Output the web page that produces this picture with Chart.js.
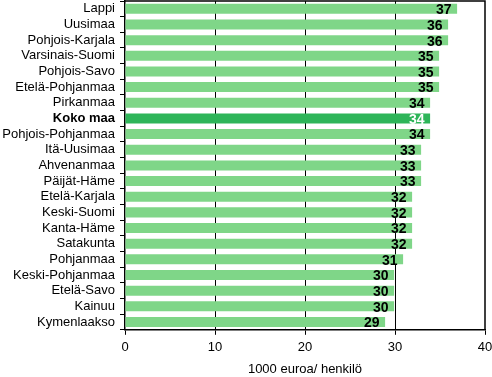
<!DOCTYPE html>
<html>
<head>
<meta charset="utf-8">
<script src="https://cdn.jsdelivr.net/npm/chart.js@4.4.1/dist/chart.umd.min.js"></script>
<style>
html,body{margin:0;padding:0;background:#fff;}
#wrap{width:492px;height:377px;position:relative;}
</style>
</head>
<body>
<div id="wrap"><canvas id="c" width="492" height="377"></canvas></div>
<script>
const categories = ["Lappi","Uusimaa","Pohjois-Karjala","Varsinais-Suomi","Pohjois-Savo","Etelä-Pohjanmaa","Pirkanmaa","Koko maa","Pohjois-Pohjanmaa","Itä-Uusimaa","Ahvenanmaa","Päijät-Häme","Etelä-Karjala","Keski-Suomi","Kanta-Häme","Satakunta","Pohjanmaa","Keski-Pohjanmaa","Etelä-Savo","Kainuu","Kymenlaakso"];
const values = [36.9,35.9,35.9,34.9,34.9,34.9,33.9,33.9,33.9,32.9,32.9,32.9,31.9,31.9,31.9,31.9,30.9,29.9,29.9,29.9,28.9];
const valueLabels = ["37","36","36","35","35","35","34","34","34","33","33","33","32","32","32","32","31","30","30","30","29"];
const xTicks = [0,10,20,30,40];
const highlight = "Koko maa";
const axisTitle = "1000 euroa/ henkilö";

const LIGHT = "#7fd688", DARK = "#2eb559";
const FONT = "'Liberation Sans', Arial, sans-serif";
const NARROW = "'Liberation Sans Narrow', 'Arial Narrow', 'Liberation Sans', sans-serif";

const labelPlugin = {
  id: 'valLabels',
  afterDatasetsDraw(chart) {
    const ctx = chart.ctx;
    const meta = chart.getDatasetMeta(0);
    ctx.save();
    ctx.font = "bold 14px " + NARROW;
    ctx.textAlign = "right";
    ctx.textBaseline = "middle";
    meta.data.forEach((bar, i) => {
      ctx.fillStyle = categories[i] === highlight ? "#ffffff" : "#000000";
      ctx.fillText(valueLabels[i], bar.x - 5.5, bar.y + 1.5);
    });
    ctx.restore();
  }
};
const framePlugin = {
  id: 'frame',
  afterDraw(chart) {
    const a = chart.chartArea, ctx = chart.ctx;
    ctx.save();
    ctx.strokeStyle = "#000";
    ctx.lineWidth = 1.5;
    ctx.beginPath();
    ctx.moveTo(a.left, a.top);
    ctx.lineTo(a.right, a.top);
    ctx.lineTo(a.right, a.bottom);
    ctx.stroke();
    ctx.restore();
  }
};

new Chart(document.getElementById('c'), {
  type: 'bar',
  data: {
    labels: categories,
    datasets: [{
      data: values,
      backgroundColor: categories.map(c => c === highlight ? DARK : LIGHT),
      borderWidth: 0,
      categoryPercentage: 0.64,
      barPercentage: 1.0
    }]
  },
  options: {
    indexAxis: 'y',
    responsive: false,
    animation: false,
    devicePixelRatio: 1,
    layout: { padding: { top: 1, right: 0, bottom: 0, left: 0 } },
    plugins: { legend: { display: false }, tooltip: { enabled: false } },
    scales: {
      x: {
        min: 0, max: 40,
        afterBuildTicks(axis) { axis.ticks = xTicks.map(v => ({ value: v })); },
        afterFit(axis) { axis.paddingRight = 7; axis.paddingLeft = 0; },
        ticks: { color: "#000", font: { family: FONT, size: 13 }, padding: 5, maxRotation: 0 },
        grid: {
          color: ctx => (ctx.tick && (ctx.tick.value === 0 || ctx.tick.value === 40)) ? "rgba(0,0,0,0)" : "#000",
          borderDash: [3, 3],
          lineWidth: 1,
          tickColor: "#000",
          tickLength: 5,
          tickBorderDash: [],
          drawTicks: true
        },
        border: { display: true, color: "#000", width: 1.5 },
        title: { display: true, text: axisTitle, color: "#000", font: { family: FONT, size: 13 }, padding: { top: 1, bottom: 0 } }
      },
      y: {
        afterFit(axis) { axis.width = 125; axis.paddingTop = 0; axis.paddingBottom = 0; },
        ticks: {
          color: "#000",
          padding: 5,
          autoSkip: false,
          font: ctx => ({ family: FONT, size: 13, weight: categories[ctx.index] === highlight ? 'bold' : 'normal' })
        },
        grid: { drawOnChartArea: false, tickLength: 5, tickColor: "#000", lineWidth: 1 },
        border: { display: true, color: "#000", width: 1.5 }
      }
    }
  },
  plugins: [labelPlugin, framePlugin]
});
</script>
</body>
</html>
